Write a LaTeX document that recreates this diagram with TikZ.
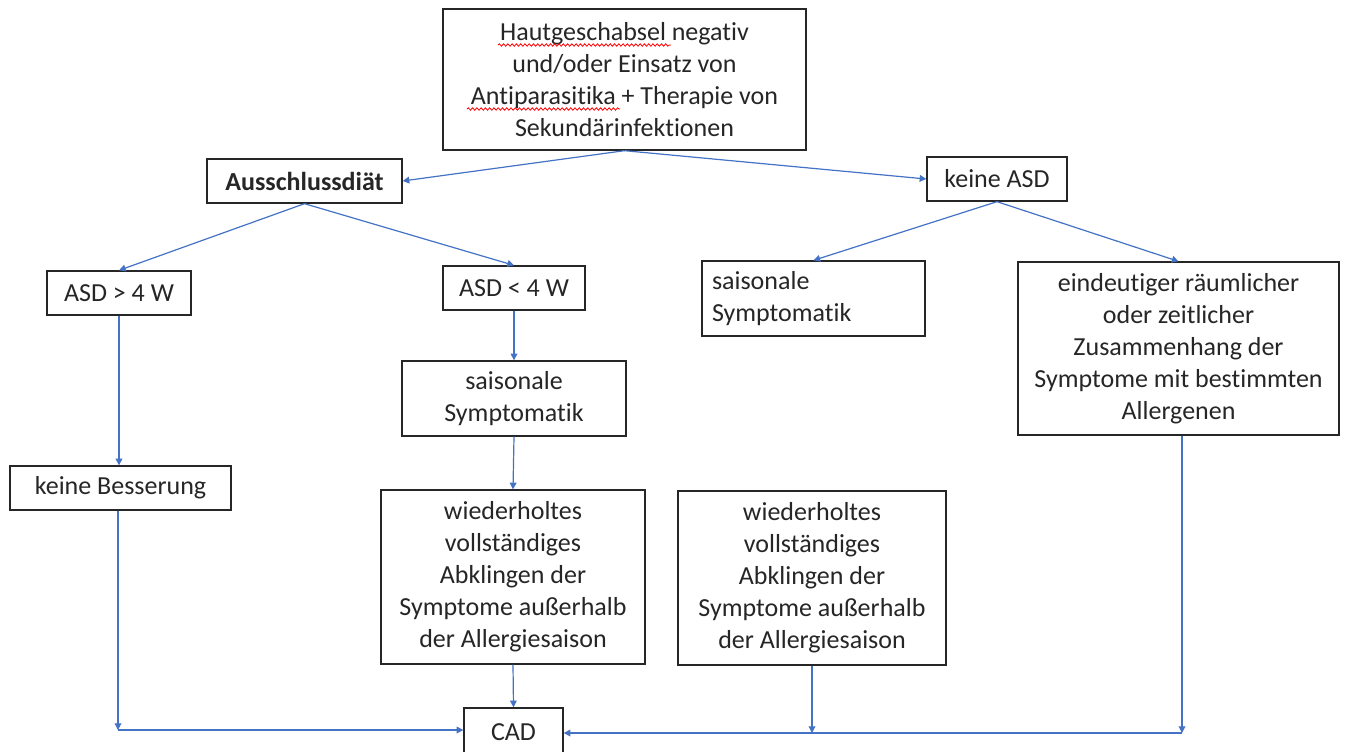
\documentclass[tikz,border=0pt]{standalone}
\usepackage{fontspec}
\setmainfont[Ligatures={NoCommon}]{Carlito}
\usetikzlibrary{arrows.meta,decorations.pathmorphing}
\definecolor{lnblue}{HTML}{4472C4}
\tikzset{
  box/.style={draw=black!85, line width=1pt, inner sep=0pt, align=center,
    font=\fontsize{19.5}{24}\selectfont, text=black!85},
  arr/.style={draw=lnblue, line width=0.9pt, -{Triangle[length=5pt,width=5pt]}},
  ln/.style={draw=lnblue, line width=0.9pt},
  squig/.style={draw=red, line width=0.6pt, decorate,
    decoration={snake, amplitude=0.9pt, segment length=3.2pt}}
}
\newcommand\bx[7][]{\node[box,#1,minimum width={(#4-#2)*0.75pt},minimum height={(#5-#3)*0.75pt}] (#6) at ({(#2+#4)/2},{(#3+#5)/2}) {#7};}
\begin{document}
\begin{tikzpicture}[x=0.75pt,y=-0.75pt]
\clip (0,0) rectangle (1346,751);
\fill[white] (0,0) rectangle (1346,751);
\bx{443}{9}{806}{150}{top}{Hautgeschabsel negativ\\und/oder Einsatz von\\Antiparasitika + Therapie von\\Sekundärinfektionen}
\bx{207}{159}{402}{203}{aus}{\bfseries Ausschlussdiät}
\bx{927}{157}{1067}{201}{kasd}{keine ASD}
\bx{47}{271}{191}{315}{g4}{ASD > 4 W}
\bx{443}{266}{585}{310}{l4}{ASD < 4 W}
\bx{402}{361}{626}{436}{sl}{saisonale\\Symptomatik}
\node[box, align=left, text width={(925-702-20)*0.75pt}, inner xsep=7.5pt, minimum height={75*0.75pt}] (sr) at ({(702+925)/2},{(261+336)/2}) {saisonale\\Symptomatik};
\bx{1018}{262}{1339}{435}{ea}{eindeutiger räumlicher\\oder zeitlicher\\Zusammenhang der\\Symptome mit bestimmten\\Allergenen}
\bx{10}{466}{231}{510}{kb}{keine Besserung}
\bx{381}{490}{645}{664}{wl}{wiederholtes\\vollständiges\\Abklingen der\\Symptome außerhalb\\der Allergiesaison}
\bx{678}{491}{946}{665}{wr}{wiederholtes\\vollständiges\\Abklingen der\\Symptome außerhalb\\der Allergiesaison}
\bx{464}{708}{563}{756}{cad}{CAD}
% spell-check marks
\draw[squig] (498,45) -- (671,45);
\draw[squig] (467,109) -- (620,109);
% connectors
\coordinate (c1) at (118,730);
\coordinate (c4) at (1182,733);
\draw[arr] (top.south) -- (aus.east);
\draw[arr] (top.south) -- (kasd.west);
\draw[arr] (aus.south) -- (g4.north);
\draw[arr] (aus.south) -- (l4.north);
\draw[arr] (kasd.south) -- (sr.north);
\draw[arr] (kasd.south) -- (ea.north);
\draw[arr] (g4.south) -- (g4.south |- kb.north);
\draw[arr] (l4.south) -- (sl.north);
\draw[arr] (sl.south) -- (wl.north);
\draw[arr] (wl.south) -- (cad.north);
\draw[arr] (c1 |- kb.south) -- (c1);
\draw[arr] (c1) -- (c1 -| cad.west);
\draw[arr] (wr.south) -- (wr.south |- c4);
\draw[arr] (c4 |- ea.south) -- (c4);
\draw[arr] (c4) -- (c4 -| cad.east);
\end{tikzpicture}
\end{document}
